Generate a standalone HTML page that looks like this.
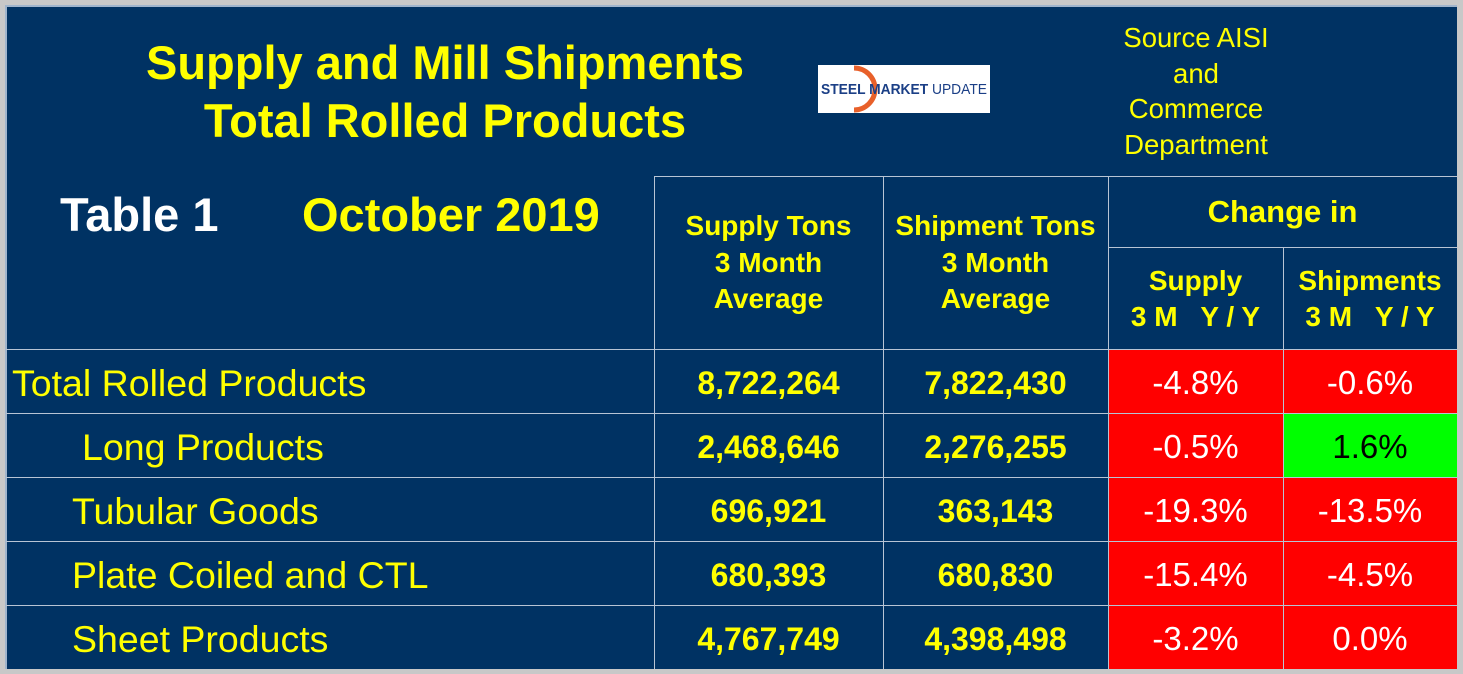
<!DOCTYPE html>
<html><head><meta charset="utf-8"><style>
body{margin:0;width:1463px;height:674px;background:#c8c8c8;font-family:"Liberation Sans",Arial,sans-serif;overflow:hidden;position:relative}
.a{position:absolute}
#panel{left:5px;top:5px;width:1452px;height:664px;background:#003263;border-left:2px solid #9fb4cc;border-top:2px solid #9fb4cc;box-sizing:border-box}
.t{position:absolute;text-align:center;white-space:nowrap}
.y{color:#ffff00}
.hl{position:absolute;background:#b8c4d4;height:1px}
.vl{position:absolute;background:#b8c4d4;width:1px}
.lab{position:absolute;color:#ffff00;font-size:37.5px;line-height:68px;white-space:nowrap}
.num{position:absolute;color:#ffff00;font-size:32px;font-weight:bold;text-align:center;line-height:68px}
.pct{position:absolute;color:#fff;font-size:33px;text-align:center;line-height:68px}
.cell{position:absolute;background:#ff0000}
</style></head><body>
<div class="a" id="panel"></div>
<div class="t y" style="left:90px;top:34px;width:710px;font-size:47px;font-weight:bold;line-height:58px">Supply and Mill Shipments<br>Total Rolled Products</div>
<div class="a" style="left:818px;top:65px;width:172px;height:48px;background:#fff">
<svg width="172" height="48"><path d="M36 3 A21 21 0 0 1 36 45" fill="none" stroke="#e8602a" stroke-width="5"/><text x="3" y="29" textLength="166" lengthAdjust="spacingAndGlyphs" font-family="Liberation Sans" font-weight="bold" font-size="15" fill="#1b3f86">STEEL MARKET <tspan font-weight="normal">UPDATE</tspan></text></svg></div>
<div class="t y" style="left:1096px;top:20px;width:200px;font-size:27.5px;line-height:35.5px">Source AISI<br>and<br>Commerce<br>Department</div>
<div class="t" style="left:60px;top:187px;font-size:47px;font-weight:bold;color:#fff">Table 1</div>
<div class="t y" style="left:302px;top:187px;font-size:47px;font-weight:bold">October 2019</div>

<div class="cell" style="left:1108px;top:349px;width:349px;height:320px"></div>
<div class="a" style="left:1283px;top:413px;width:174px;height:64px;background:#00ff00"></div>

<div class="hl" style="left:654px;top:176px;width:803px"></div>
<div class="hl" style="left:1108px;top:247px;width:349px"></div>
<div class="hl" style="left:6px;top:349px;width:1451px"></div>
<div class="hl" style="left:6px;top:413px;width:1451px"></div>
<div class="hl" style="left:6px;top:477px;width:1451px"></div>
<div class="hl" style="left:6px;top:541px;width:1451px"></div>
<div class="hl" style="left:6px;top:605px;width:1451px"></div>
<div class="vl" style="left:654px;top:176px;height:493px"></div>
<div class="vl" style="left:883px;top:176px;height:493px"></div>
<div class="vl" style="left:1108px;top:176px;height:493px"></div>
<div class="vl" style="left:1283px;top:247px;height:422px"></div>

<div class="t y" style="left:654px;top:208px;width:229px;font-size:28px;font-weight:bold;line-height:36.5px">Supply Tons<br>3 Month<br>Average</div>
<div class="t y" style="left:883px;top:208px;width:225px;font-size:28px;font-weight:bold;line-height:36.5px">Shipment Tons<br>3 Month<br>Average</div>
<div class="t y" style="left:1108px;top:194px;width:349px;font-size:31px;font-weight:bold">Change in</div>
<div class="t y" style="left:1108px;top:263px;width:175px;font-size:28px;font-weight:bold;line-height:36px">Supply<br>3 M &nbsp; Y / Y</div>
<div class="t y" style="left:1283px;top:263px;width:174px;font-size:28px;font-weight:bold;line-height:36px">Shipments<br>3 M &nbsp; Y / Y</div>

<div id="rows"></div>
<script>
const labels=["Total Rolled Products","Long Products","Tubular Goods","Plate Coiled and CTL","Sheet Products"];
const indents=[12,82,72,72,72];
const supply=["8,722,264","2,468,646","696,921","680,393","4,767,749"];
const shipments=["7,822,430","2,276,255","363,143","680,830","4,398,498"];
const supplyChg=["-4.8%","-0.5%","-19.3%","-15.4%","-3.2%"];
const shipChg=["-0.6%","1.6%","-13.5%","-4.5%","0.0%"];
const root=document.getElementById('rows');
function mk(cls,left,top,w,txt,color){const d=document.createElement('div');d.className=cls;d.style.left=left+'px';d.style.top=top+'px';if(w)d.style.width=w+'px';d.textContent=txt;if(color)d.style.color=color;root.appendChild(d);return d;}
labels.forEach((l,i)=>{const top=349+i*64;
const a=mk('lab',indents[i],top,0,l);


const b=mk('num',654,top,229,supply[i]);


const c=mk('num',883,top,225,shipments[i]);


const d=mk('pct',1108,top,175,supplyChg[i]);


const e=mk('pct',1283,top,174,shipChg[i],i===1?'#000':null);


});
</script>
</body></html>
